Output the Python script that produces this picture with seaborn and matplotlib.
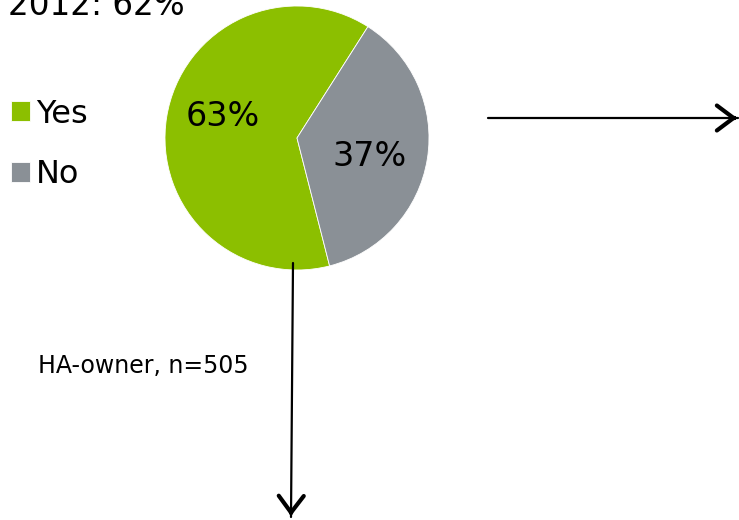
import matplotlib
matplotlib.use("Agg")
import matplotlib.pyplot as plt
import numpy as np
import seaborn as sns

sns.set_theme(style="white")
plt.rcParams['font.family'] = ['DejaVu Sans']

# data
categories = ["Yes", "No"]
shares = [63, 37]
colors = ["#8CBF00", "#8A9096"]
title_text = "2012: 62%"
sample_text = "HA-owner, n=505"

W, H = 739, 520
fig = plt.figure(figsize=(W / 100, H / 100), dpi=100)
fig.patch.set_facecolor("white")

# pie axes: center (297,138), radius 132 px
cx, cy, r = 297, 138, 132
ax = fig.add_axes([(cx - r) / W, (H - cy - r) / H, 2 * r / W, 2 * r / H])
wedges, texts, autotexts = ax.pie(
    shares, colors=colors, startangle=57.5, counterclock=True,
    autopct=lambda p: f"{p:.0f}%", pctdistance=0.58,
    textprops=dict(fontsize=24, color="black"),
    wedgeprops=dict(linewidth=0.6, edgecolor="white"),
)
# label placement offsets (angle shift in degrees, radius)
label_shift = [(-7, 0.585), (-5, 0.57)]
for w, t, (dth, rad) in zip(wedges, autotexts, label_shift):
    ang = np.deg2rad((w.theta1 + w.theta2) / 2 + dth)
    t.set_position((rad * np.cos(ang), rad * np.sin(ang)))
ax.set_xlim(-1, 1)
ax.set_ylim(-1, 1)
ax.set_aspect("equal")
ax.axis("off")

# overlay in pixel coordinates
ov = fig.add_axes([0, 0, 1, 1], facecolor="none")
ov.set_xlim(0, W)
ov.set_ylim(H, 0)
ov.axis("off")

ov.text(8, 15, title_text, fontsize=23.5, ha="left", va="baseline", color="black")
ov.text(38, 373, sample_text, fontsize=17, ha="left", va="baseline", color="black")

leg = fig.legend(wedges, categories, loc="upper left",
                 bbox_to_anchor=(-15 / W, 1 - 73 / H), frameon=False,
                 fontsize=23, handlelength=0.6, handleheight=0.6,
                 handletextpad=0.2, labelspacing=0.92, borderpad=0.3,
                 labelcolor="black")

# arrows
ov.annotate("", xy=(738, 118), xytext=(488, 118),
            arrowprops=dict(arrowstyle="-", lw=1.6, color="black", shrinkA=0, shrinkB=0))
ov.annotate("", xy=(737, 118), xytext=(733, 118),
            arrowprops=dict(arrowstyle="->,head_length=0.6,head_width=0.45", lw=3,
                            color="black", mutation_scale=20, shrinkA=0, shrinkB=0))
ov.annotate("", xy=(291, 517), xytext=(293, 263),
            arrowprops=dict(arrowstyle="-", lw=1.6, color="black", shrinkA=0, shrinkB=0))
ov.annotate("", xy=(291, 516), xytext=(291.05, 512),
            arrowprops=dict(arrowstyle="->,head_length=0.6,head_width=0.45", lw=3,
                            color="black", mutation_scale=20, shrinkA=0, shrinkB=0))

fig.savefig("out.png", dpi=100)
